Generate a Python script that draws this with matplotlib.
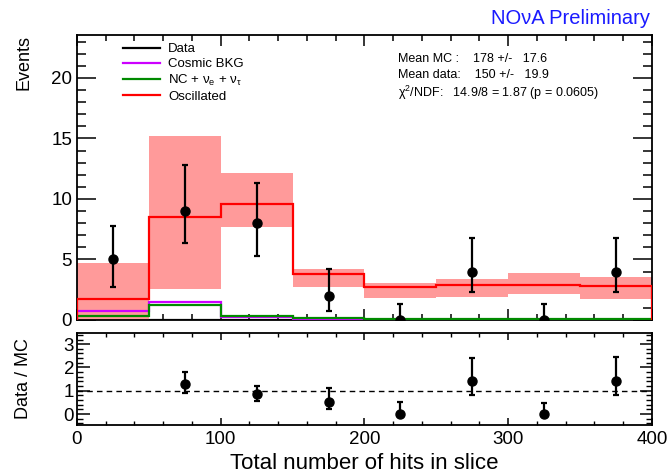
import numpy as np
import matplotlib.pyplot as plt
from matplotlib.ticker import MultipleLocator

plt.rcParams['font.family'] = ['Liberation Sans', 'DejaVu Sans']
plt.rcParams['mathtext.fontset'] = 'custom'
plt.rcParams['mathtext.rm'] = 'Liberation Sans'
plt.rcParams['mathtext.it'] = 'Liberation Sans:italic'

# binning: total number of hits in slice
edges = [0, 50, 100, 150, 200, 250, 300, 350, 400]
centers = [25, 75, 125, 175, 225, 275, 325, 375]

# data
data = [5, 9, 8, 2, 0, 4, 0, 4]
data_up = [7.77, 12.8, 11.35, 4.24, 1.29, 6.75, 1.29, 6.75]
data_lo = [2.75, 6.34, 5.29, 0.74, 0.0, 2.34, 0.0, 2.34]

# MC predictions
oscillated = [1.71, 8.54, 9.59, 3.78, 2.70, 2.87, 2.92, 2.81]
band_up = [4.68, 15.2, 12.17, 4.19, 3.03, 3.36, 3.91, 3.58]
band_lo = [0.0, 2.53, 7.71, 2.70, 1.82, 1.87, 2.18, 1.71]
cosmic = [0.74, 1.49, 0.22, 0.05, 0.0, 0.0, 0.0, 0.0]
nc_bkg = [0.36, 1.24, 0.33, 0.14, 0.08, 0.08, 0.08, 0.08]
data_hist = [0, 0, 0, 0, 0, 0, 0, 0]

# ratio panel (first bin not drawn)
ratio_x = [75, 125, 175, 225, 275, 325, 375]
ratio = [1.29, 0.87, 0.53, 0.0, 1.42, 0.0, 1.43]
ratio_up = [1.82, 1.21, 1.13, 0.50, 2.39, 0.47, 2.43]
ratio_lo = [0.91, 0.57, 0.20, 0.0, 0.82, 0.0, 0.82]

fig = plt.figure(figsize=(6.67, 4.74), dpi=100)
ax = fig.add_axes([0.1154, 0.3249, 0.8621, 0.6013])
axr = fig.add_axes([0.1154, 0.1034, 0.8621, 0.1941])

ax.stairs(data_hist, edges, color='black', lw=1.6, label='Data', zorder=2)
ax.stairs(band_up, edges, baseline=band_lo, fill=True, color='#ff9a9a', lw=0, zorder=2.5)
ax.stairs(cosmic, edges, color='#cc00ff', lw=1.6, label='Cosmic BKG', zorder=3)
ax.stairs(nc_bkg, edges, color='#008a00', lw=1.6,
          label=r'NC + ν$_\mathregular{e}$ + ν$_\mathregular{\tau}$', zorder=3.1)
ax.stairs(oscillated, edges, color='#ff0000', lw=1.6, label='Oscillated', zorder=3.2)

yerr = [np.array(data) - np.array(data_lo), np.array(data_up) - np.array(data)]
ax.errorbar(centers, data, yerr=yerr, fmt='o', color='black', ms=6.5,
            elinewidth=1.6, capsize=2, capthick=1.6, zorder=5)

ax.set_xlim(0, 400)
ax.set_ylim(0, 23.55)
ax.set_xticklabels([])
ax.xaxis.set_major_locator(MultipleLocator(100))
ax.xaxis.set_minor_locator(MultipleLocator(20))
ax.yaxis.set_major_locator(MultipleLocator(5))
ax.yaxis.set_minor_locator(MultipleLocator(1))
ax.tick_params(which='both', direction='in', top=True, right=True, labelsize=13.5)
ax.tick_params(axis='y', which='major', length=13.5, width=1.1)
ax.tick_params(axis='y', which='minor', length=6.5, width=1.1)
ax.tick_params(axis='x', which='major', length=8, width=1.1)
ax.tick_params(axis='x', which='minor', length=4.5, width=1.1)
ax.set_ylabel('Events', loc='top', fontsize=13)
ax.yaxis.set_label_coords(-0.078, 1.0)

leg = ax.legend(loc='upper left', bbox_to_anchor=(0.06, 1.013), frameon=False,
                fontsize=9.5, handlelength=2.8, labelspacing=0.2, handletextpad=0.6)

ax.text(0.558, 0.916, 'Mean MC :    178 +/-   17.6', transform=ax.transAxes, fontsize=9,
        va='center')
ax.text(0.558, 0.858, 'Mean data:    150 +/-   19.9', transform=ax.transAxes, fontsize=9,
        va='center')
ax.text(0.558, 0.798, 'χ$^\\mathregular{2}$/NDF:   14.9/8 = 1.87 (p = 0.0605)',
        transform=ax.transAxes, fontsize=9, va='center')

fig.text(0.975, 0.962, 'NOνA Preliminary', color='#1a1aff', fontsize=14.5,
         ha='right', va='center')

# ratio panel
axr.axhline(1, color='black', lw=1, ls=(0, (4, 3)))
rerr = [np.array(ratio) - np.array(ratio_lo), np.array(ratio_up) - np.array(ratio)]
axr.errorbar(ratio_x, ratio, yerr=rerr, fmt='o', color='black', ms=6.5,
             elinewidth=1.6, capsize=2, capthick=1.6, zorder=5)
axr.set_xlim(0, 400)
axr.set_ylim(-0.47, 3.48)
axr.xaxis.set_major_locator(MultipleLocator(100))
axr.xaxis.set_minor_locator(MultipleLocator(20))
axr.yaxis.set_major_locator(MultipleLocator(1))
axr.yaxis.set_minor_locator(MultipleLocator(0.2))
axr.tick_params(which='both', direction='in', top=True, right=True, labelsize=13.5)
axr.tick_params(axis='y', which='major', length=9, width=1.1, pad=2)
axr.tick_params(axis='y', which='minor', length=4, width=1.0)
axr.tick_params(axis='x', which='major', length=5, width=1.1, pad=4)
axr.tick_params(axis='x', which='minor', length=3, width=1.0)
axr.set_ylabel('Data / MC', fontsize=13)
axr.yaxis.set_label_coords(-0.078, 0.5)
axr.set_xlabel('Total number of hits in slice', fontsize=16)

for a in (ax, axr):
    for s in a.spines.values():
        s.set_linewidth(1.3)

fig.savefig('out.png', dpi=100)
